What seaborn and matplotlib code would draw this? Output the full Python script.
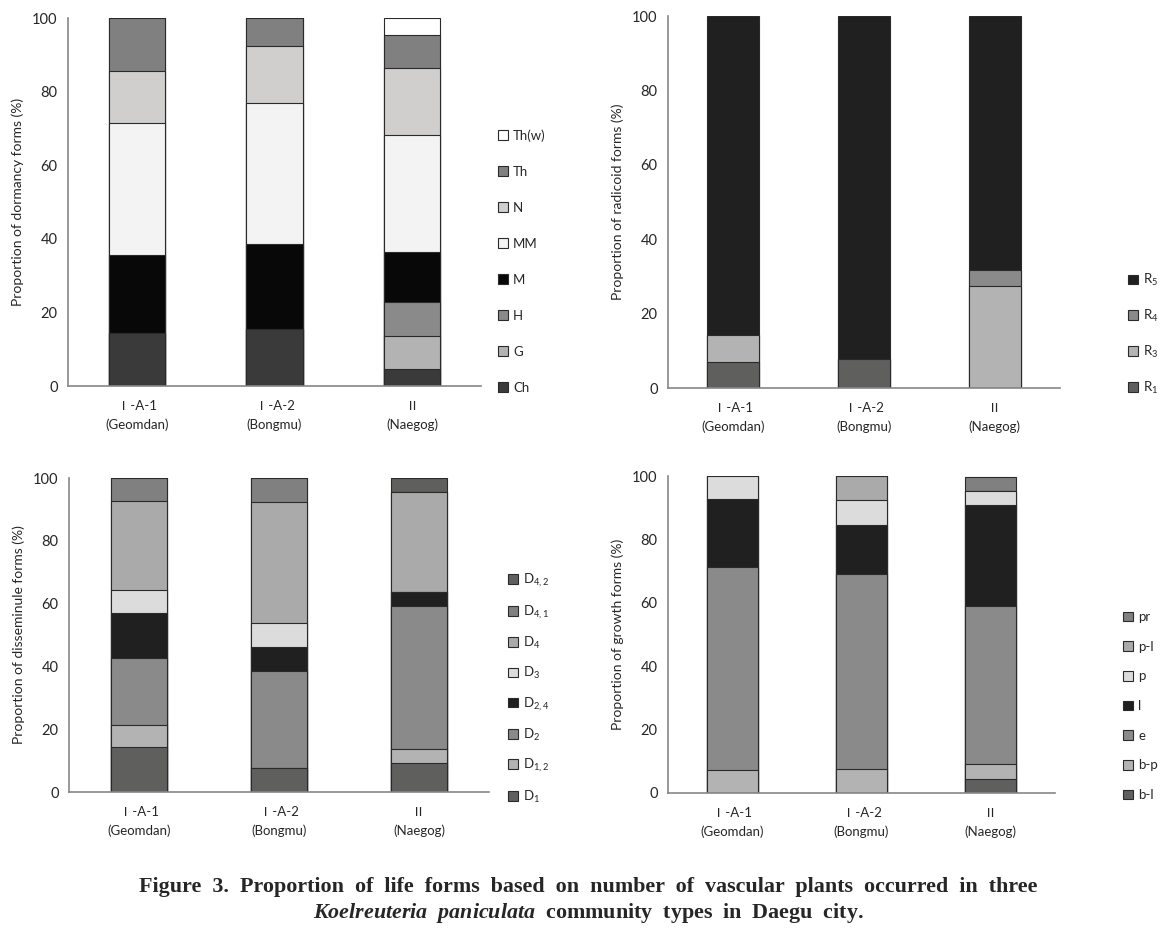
import pandas as pd
import matplotlib.pyplot as plt
import seaborn as sns
from matplotlib.patches import Patch

# Community types (x categories)
sites = ['Ⅰ-A-1\n(Geomdan)', 'Ⅰ-A-2\n(Bongmu)', 'Ⅱ\n(Naegog)']

# Dormancy forms (%)
dormancy_forms = ['Ch', 'G', 'H', 'M', 'MM', 'N', 'Th', 'Th(w)']
dormancy_geomdan = [14.3, 0, 0, 21.4, 35.7, 14.3, 14.3, 0]
dormancy_bongmu = [15.4, 0, 0, 23.1, 38.5, 15.4, 7.7, 0]
dormancy_naegog = [4.5, 9.1, 9.1, 13.6, 31.8, 18.2, 9.1, 4.5]
dormancy_colors = ['#3a3a3a', '#b3b3b3', '#8a8a8a', '#080808', '#f2f3f2', '#d0cfcd', '#808080', '#ffffff']

# Radicoid forms (%)
radicoid_forms = ['R1', 'R3', 'R4', 'R5']
radicoid_labels = [r'$\mathregular{R_1}$', r'$\mathregular{R_3}$', r'$\mathregular{R_4}$', r'$\mathregular{R_5}$']
radicoid_geomdan = [7.1, 7.1, 0, 85.7]
radicoid_bongmu = [7.7, 0, 0, 92.3]
radicoid_naegog = [0, 27.3, 4.5, 68.2]
radicoid_colors = ['#5f605e', '#b3b3b3', '#8a8a8a', '#202020']

# Disseminule forms (%)
dissem_forms = ['D1', 'D12', 'D2', 'D24', 'D3', 'D4', 'D41', 'D42']
dissem_labels = [r'$\mathregular{D_1}$', r'$\mathregular{D_{1,2}}$', r'$\mathregular{D_2}$',
                 r'$\mathregular{D_{2,4}}$', r'$\mathregular{D_3}$', r'$\mathregular{D_4}$',
                 r'$\mathregular{D_{4,1}}$', r'$\mathregular{D_{4,2}}$']
dissem_geomdan = [14.3, 7.1, 21.4, 14.3, 7.1, 28.6, 7.1, 0]
dissem_bongmu = [7.7, 0, 30.8, 7.7, 7.7, 38.5, 7.7, 0]
dissem_naegog = [9.1, 4.5, 45.5, 4.5, 0, 31.8, 0, 4.5]
dissem_colors = ['#5f605e', '#b3b3b3', '#8a8a8a', '#202020', '#dcdcdc', '#a9aaa9', '#808080', '#5f605e']

# Growth forms (%)
growth_forms = ['b-l', 'b-p', 'e', 'l', 'p', 'p-l', 'pr']
growth_geomdan = [0, 7.1, 64.3, 21.4, 7.1, 0, 0]
growth_bongmu = [0, 7.7, 61.5, 15.4, 7.7, 7.7, 0]
growth_naegog = [4.5, 4.5, 50.0, 31.8, 4.5, 0, 4.5]
growth_colors = ['#5f605e', '#b3b3b3', '#8a8a8a', '#202020', '#dcdcdc', '#a9aaa9', '#808080']

sns.set_style('white')
plt.rcParams['font.family'] = ['Lato', 'Noto Sans CJK KR', 'DejaVu Sans']
plt.rcParams['mathtext.fontset'] = 'custom'
plt.rcParams['mathtext.it'] = 'Liberation Serif:italic:bold'
plt.rcParams['mathtext.rm'] = 'Liberation Serif:bold'

fig = plt.figure(figsize=(11.76, 9.31), dpi=100)


def stacked(rect, forms, labels, rows, colors, ylabel, leg_x, leg_y, leg_space, bar_w):
    ax = fig.add_axes(rect)
    df = pd.DataFrame(rows, index=sites, columns=forms)
    cum = df.cumsum(axis=1)
    # draw cumulative bars from the top segment down
    for form, color in reversed(list(zip(forms, colors))):
        sns.barplot(x=list(range(len(sites))), y=cum[form].values, color=color, saturation=1,
                    width=bar_w, edgecolor='#2a2a2a', linewidth=0.8, ax=ax)
    ax.set_ylim(0, 100)
    ax.set_xlim(-0.5, 2.5)
    ax.set_yticks(range(0, 101, 20))
    ax.set_xticks([0, 1, 2])
    ax.set_xticklabels(sites, fontsize=9.5, linespacing=1.6)
    ax.set_xticks([-0.5, 0.5, 1.5, 2.5], minor=True)
    ax.tick_params(axis='x', which='major', length=0, pad=10)
    ax.tick_params(axis='x', which='minor', length=5, direction='out', color='#808080', width=1)
    ax.tick_params(axis='y', length=4, direction='out', color='#808080', width=1, labelsize=10.5)
    ax.set_ylabel(ylabel, fontsize=10, labelpad=6)
    for s in ['top', 'right']:
        ax.spines[s].set_visible(False)
    for s in ['left', 'bottom']:
        ax.spines[s].set_color('#868686')
        ax.spines[s].set_linewidth(1.2)
    handles = [Patch(facecolor=c, edgecolor='#2a2a2a', linewidth=0.8) for c in colors][::-1]
    fig.legend(handles, labels[::-1], loc='upper left', bbox_to_anchor=(leg_x / 1176, 1 - leg_y / 931),
               frameon=False, fontsize=9.5, handlelength=0.75, handleheight=0.75,
               handletextpad=0.4, labelspacing=leg_space, borderpad=0, borderaxespad=0)
    return ax


stacked([68 / 1176, 1 - 386 / 931, 413 / 1176, 368 / 931], dormancy_forms, dormancy_forms,
        [dormancy_geomdan, dormancy_bongmu, dormancy_naegog], dormancy_colors,
        'Proportion of dormancy forms (%)', 498, 129, 1.82, 0.41)
stacked([668 / 1176, 1 - 388 / 931, 392 / 1176, 372 / 931], radicoid_forms, radicoid_labels,
        [radicoid_geomdan, radicoid_bongmu, radicoid_naegog], radicoid_colors,
        'Proportion of radicoid forms (%)', 1128, 272, 1.5, 0.40)
stacked([69 / 1176, 1 - 792 / 931, 420 / 1176, 314 / 931], dissem_forms, dissem_labels,
        [dissem_geomdan, dissem_bongmu, dissem_naegog], dissem_colors,
        'Proportion of disseminule forms (%)', 508, 572, 1.07, 0.40)
stacked([668 / 1176, 1 - 793 / 931, 387 / 1176, 317 / 931], growth_forms, growth_forms,
        [growth_geomdan, growth_bongmu, growth_naegog], growth_colors,
        'Proportion of growth forms (%)', 1123, 611, 1.34, 0.40)

fig.text(0.5, 1 - 887 / 931,
         'Figure  3.  Proportion  of  life  forms  based  on  number  of  vascular  plants  occurred  in  three',
         ha='center', va='center', fontsize=15.8, fontweight='bold', family='Liberation Serif')
fig.text(0.5, 1 - 913 / 931,
         r'$\mathit{Koelreuteria}$  $\mathit{paniculata}$  community  types  in  Daegu  city.',
         ha='center', va='center', fontsize=15.8, fontweight='bold', family='Liberation Serif')

fig.savefig('out.png', dpi=100)
